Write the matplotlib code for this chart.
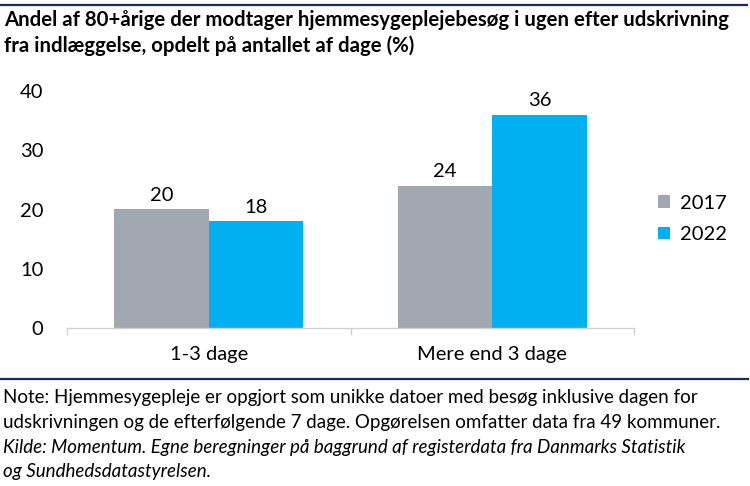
import matplotlib
matplotlib.use("Agg")
import matplotlib.pyplot as plt
from matplotlib.lines import Line2D
import numpy as np

categories = ["1-3 dage", "Mere end 3 dage"]
years = ["2017", "2022"]
values_2017 = [20, 24]
values_2022 = [18, 36]
y_ticks = [0, 10, 20, 30, 40]

title_lines = ["Andel af 80+årige der modtager hjemmesygeplejebesøg i ugen efter udskrivning",
               "fra indlæggelse, opdelt på antallet af dage (%)"]
note_lines = ["Note: Hjemmesygepleje er opgjort som unikke datoer med besøg inklusive dagen for",
              "udskrivningen og de efterfølgende 7 dage. Opgørelsen omfatter data fra 49 kommuner."]
source_lines = ["Kilde: Momentum. Egne beregninger på baggrund af registerdata fra Danmarks Statistik",
                "og Sundhedsdatastyrelsen."]

GRAY = "#A2A8AF"
BLUE = "#00B0F0"
NAVY = "#1F2A5C"
FONT = "Lato"

plt.rcParams["font.family"] = [FONT, "DejaVu Sans"]

W, H = 750, 486
fig = plt.figure(figsize=(7.5, 4.86), dpi=100)
renderer = fig.canvas.get_renderer()

def fit_text(x_px, y_px, s, target_w, size0=12, **kw):
    t = fig.text(x_px / W, 1 - y_px / H, s, fontsize=size0, va="center", ha="left", **kw)
    w = t.get_window_extent(renderer=renderer).width
    t.set_fontsize(size0 * target_w / w)
    return t

# top and separator lines
fig.add_artist(Line2D([0, 747 / W], [1 - 5 / H, 1 - 5 / H], color=NAVY, lw=1.6))
fig.add_artist(Line2D([0, 748 / W], [1 - 379 / H, 1 - 379 / H], color=NAVY, lw=1.6))

t_title = fit_text(4, 20, title_lines[0], 718, fontweight="bold", color="black")
fig.text(4 / W, 1 - 46 / H, title_lines[1], fontsize=t_title.get_fontsize(), fontweight="bold",
         va="center", ha="left", color="black")

tn = fit_text(3, 422, note_lines[1], 714, color="black")
note_size = tn.get_fontsize()
fig.text(3 / W, 1 - 397 / H, note_lines[0], fontsize=note_size, va="center", ha="left", color="black")
fig.text(3 / W, 1 - 447 / H, source_lines[0], fontsize=note_size, style="italic", va="center", ha="left", color="black")
fig.text(3 / W, 1 - 471 / H, source_lines[1], fontsize=note_size, style="italic", va="center", ha="left", color="black")

# axes
left, right = 67 / W, 634 / W
bottom, top = 1 - 328 / H, 1 - 91 / H
ax = fig.add_axes([left, bottom, right - left, top - bottom])
x = np.arange(len(categories))
bw = 1 / 3
b1 = ax.bar(x - bw / 2, values_2017, bw, color=GRAY, label=years[0])
b2 = ax.bar(x + bw / 2, values_2022, bw, color=BLUE, label=years[1])
lab_fs = 14.5
for bars in (b1, b2):
    for r in bars:
        ax.annotate(f"{r.get_height():g}", (r.get_x() + r.get_width() / 2, r.get_height()),
                    xytext=(0, 4), textcoords="offset points", ha="center", va="bottom",
                    fontsize=lab_fs, color="black")
ax.set_xlim(-0.5, 1.5)
ax.set_ylim(0, 40)
ax.set_yticks(y_ticks)
ax.set_yticklabels([str(v) for v in y_ticks], fontsize=lab_fs)
ax.set_xticks([-0.5, 0.5, 1.5])
ax.set_xticklabels([])
ax.set_xticks(x, minor=True)
ax.set_xticklabels(categories, minor=True, fontsize=lab_fs)
ax.tick_params(axis="x", which="major", length=5, color="#D0D0D0", width=1)
ax.tick_params(axis="x", which="minor", length=0, pad=13)
ax.tick_params(axis="y", length=0, pad=17)
for s in ("top", "right", "left"):
    ax.spines[s].set_visible(False)
ax.spines["bottom"].set_color("#D0D0D0")
ax.spines["bottom"].set_linewidth(1)

leg = fig.legend(handles=[b1, b2], labels=years, loc="center left",
                 bbox_to_anchor=(640 / W, 1 - 219 / H), frameon=False, fontsize=lab_fs,
                 handlelength=0.6, handleheight=0.6, handletextpad=0.5, labelspacing=0.7)

fig.savefig("out.png", dpi=100, facecolor="white")
